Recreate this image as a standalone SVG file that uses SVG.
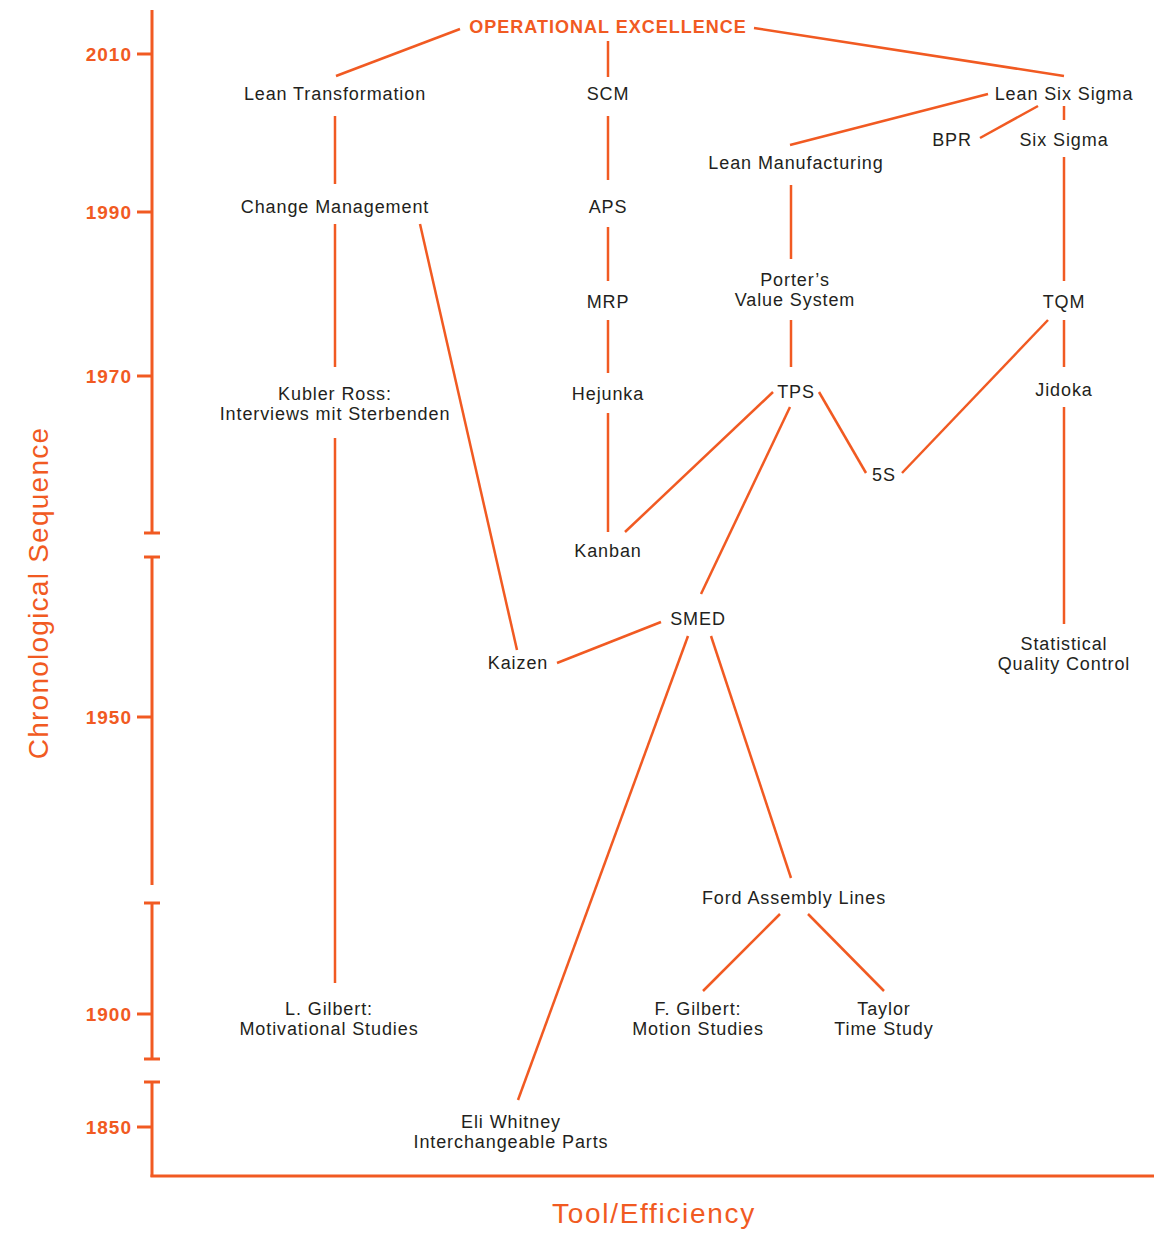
<svg xmlns="http://www.w3.org/2000/svg" width="1160" height="1236" viewBox="0 0 1160 1236">
<style>
.ax{stroke:#F15A22;stroke-width:3;fill:none}
.c{stroke:#F15A22;stroke-width:2.5;fill:none}
.t{font-family:"Liberation Sans",Arial,sans-serif;font-size:18px;letter-spacing:0.9px;fill:#231F20;text-anchor:middle}
.yr{font-family:"Liberation Sans",Arial,sans-serif;font-size:19px;letter-spacing:1px;font-weight:bold;fill:#F15A22;text-anchor:end}
.ttl{font-family:"Liberation Sans",Arial,sans-serif;font-size:18px;letter-spacing:1px;font-weight:bold;fill:#F15A22;text-anchor:middle}
.al{font-family:"Liberation Sans",Arial,sans-serif;font-size:28px;fill:#F15A22;text-anchor:middle}
</style>
<rect width="1160" height="1236" fill="#fff"/>
<g id="axes">
<line class="ax" x1="152" y1="10" x2="152" y2="533"/>
<line class="ax" x1="144" y1="533" x2="160" y2="533"/>
<line class="ax" x1="152" y1="557" x2="152" y2="885"/>
<line class="ax" x1="144" y1="557" x2="160" y2="557"/>
<line class="ax" x1="152" y1="903" x2="152" y2="1059"/>
<line class="ax" x1="144" y1="903" x2="160" y2="903"/>
<line class="ax" x1="144" y1="1059" x2="160" y2="1059"/>
<line class="ax" x1="152" y1="1082" x2="152" y2="1177"/>
<line class="ax" x1="144" y1="1082" x2="160" y2="1082"/>
<line class="ax" x1="150.5" y1="1176" x2="1154" y2="1176"/>
<line class="ax" x1="137" y1="54" x2="152" y2="54"/>
<line class="ax" x1="137" y1="212" x2="152" y2="212"/>
<line class="ax" x1="137" y1="376" x2="152" y2="376"/>
<line class="ax" x1="137" y1="717" x2="152" y2="717"/>
<line class="ax" x1="137" y1="1014" x2="152" y2="1014"/>
<line class="ax" x1="137" y1="1127" x2="152" y2="1127"/>
<text class="yr" x="132" y="61">2010</text>
<text class="yr" x="132" y="219">1990</text>
<text class="yr" x="132" y="383">1970</text>
<text class="yr" x="132" y="724">1950</text>
<text class="yr" x="132" y="1021">1900</text>
<text class="yr" x="132" y="1134">1850</text>
<text class="al" style="letter-spacing:1.25px" transform="translate(48,593) rotate(-90)">Chronological Sequence</text>
<text class="al" style="letter-spacing:1.7px" x="654" y="1223">Tool/Efficiency</text>
</g>
<g id="connectors">
<line class="c" x1="460" y1="29" x2="336" y2="76"/>
<line class="c" x1="608" y1="41" x2="608" y2="77"/>
<line class="c" x1="754" y1="28" x2="1064" y2="76"/>
<line class="c" x1="335" y1="116" x2="335" y2="184"/>
<line class="c" x1="608" y1="116" x2="608" y2="180"/>
<line class="c" x1="988" y1="94" x2="790" y2="145"/>
<line class="c" x1="1038" y1="106" x2="980" y2="138"/>
<line class="c" x1="1064" y1="106" x2="1064" y2="120"/>
<line class="c" x1="1064" y1="157" x2="1064" y2="281"/>
<line class="c" x1="791" y1="185" x2="791" y2="259"/>
<line class="c" x1="335" y1="224" x2="335" y2="367"/>
<line class="c" x1="420" y1="224" x2="517" y2="650"/>
<line class="c" x1="608" y1="227" x2="608" y2="281"/>
<line class="c" x1="608" y1="320" x2="608" y2="373"/>
<line class="c" x1="791" y1="320" x2="791" y2="367"/>
<line class="c" x1="1064" y1="320" x2="1064" y2="367"/>
<line class="c" x1="1048" y1="320" x2="902" y2="473"/>
<line class="c" x1="819" y1="392" x2="866" y2="473"/>
<line class="c" x1="773" y1="392" x2="625" y2="532"/>
<line class="c" x1="790" y1="407" x2="701" y2="594"/>
<line class="c" x1="608" y1="413" x2="608" y2="532"/>
<line class="c" x1="1064" y1="407" x2="1064" y2="624"/>
<line class="c" x1="335" y1="438" x2="335" y2="983"/>
<line class="c" x1="661" y1="622" x2="557" y2="663"/>
<line class="c" x1="688" y1="636" x2="518" y2="1100"/>
<line class="c" x1="711" y1="636" x2="791" y2="878"/>
<line class="c" x1="780" y1="914" x2="703" y2="991"/>
<line class="c" x1="808" y1="914" x2="884" y2="991"/>
</g>
<g id="operational-excellence"><text class="ttl" x="608" y="33">OPERATIONAL EXCELLENCE</text></g>
<g id="lean-transformation"><text class="t" x="335" y="100">Lean Transformation</text></g>
<g id="scm"><text class="t" x="608" y="100">SCM</text></g>
<g id="lean-six-sigma"><text class="t" x="1064" y="100">Lean Six Sigma</text></g>
<g id="bpr"><text class="t" x="952" y="146">BPR</text></g>
<g id="six-sigma"><text class="t" x="1064" y="146">Six Sigma</text></g>
<g id="lean-manufacturing"><text class="t" x="796" y="169">Lean Manufacturing</text></g>
<g id="change-management"><text class="t" x="335" y="213">Change Management</text></g>
<g id="aps"><text class="t" x="608" y="213">APS</text></g>
<g id="mrp"><text class="t" x="608" y="308">MRP</text></g>
<g id="porter"><text class="t" x="795" y="286">Porter’s</text><text class="t" x="795" y="306">Value System</text></g>
<g id="tqm"><text class="t" x="1064" y="308">TQM</text></g>
<g id="kubler-ross"><text class="t" x="335" y="400">Kubler Ross:</text><text class="t" x="335" y="420">Interviews mit Sterbenden</text></g>
<g id="hejunka"><text class="t" x="608" y="400">Hejunka</text></g>
<g id="tps"><text class="t" x="796" y="398">TPS</text></g>
<g id="jidoka"><text class="t" x="1064" y="396">Jidoka</text></g>
<g id="five-s"><text class="t" x="884" y="481">5S</text></g>
<g id="kanban"><text class="t" x="608" y="557">Kanban</text></g>
<g id="smed"><text class="t" x="698" y="625">SMED</text></g>
<g id="kaizen"><text class="t" x="518" y="669">Kaizen</text></g>
<g id="sqc"><text class="t" x="1064" y="650">Statistical</text><text class="t" x="1064" y="670">Quality Control</text></g>
<g id="ford"><text class="t" x="794" y="904">Ford Assembly Lines</text></g>
<g id="l-gilbert"><text class="t" x="329" y="1015">L. Gilbert:</text><text class="t" x="329" y="1035">Motivational Studies</text></g>
<g id="f-gilbert"><text class="t" x="698" y="1015">F. Gilbert:</text><text class="t" x="698" y="1035">Motion Studies</text></g>
<g id="taylor"><text class="t" x="884" y="1015">Taylor</text><text class="t" x="884" y="1035">Time Study</text></g>
<g id="eli-whitney"><text class="t" x="511" y="1128">Eli Whitney</text><text class="t" x="511" y="1148">Interchangeable Parts</text></g>
</svg>
